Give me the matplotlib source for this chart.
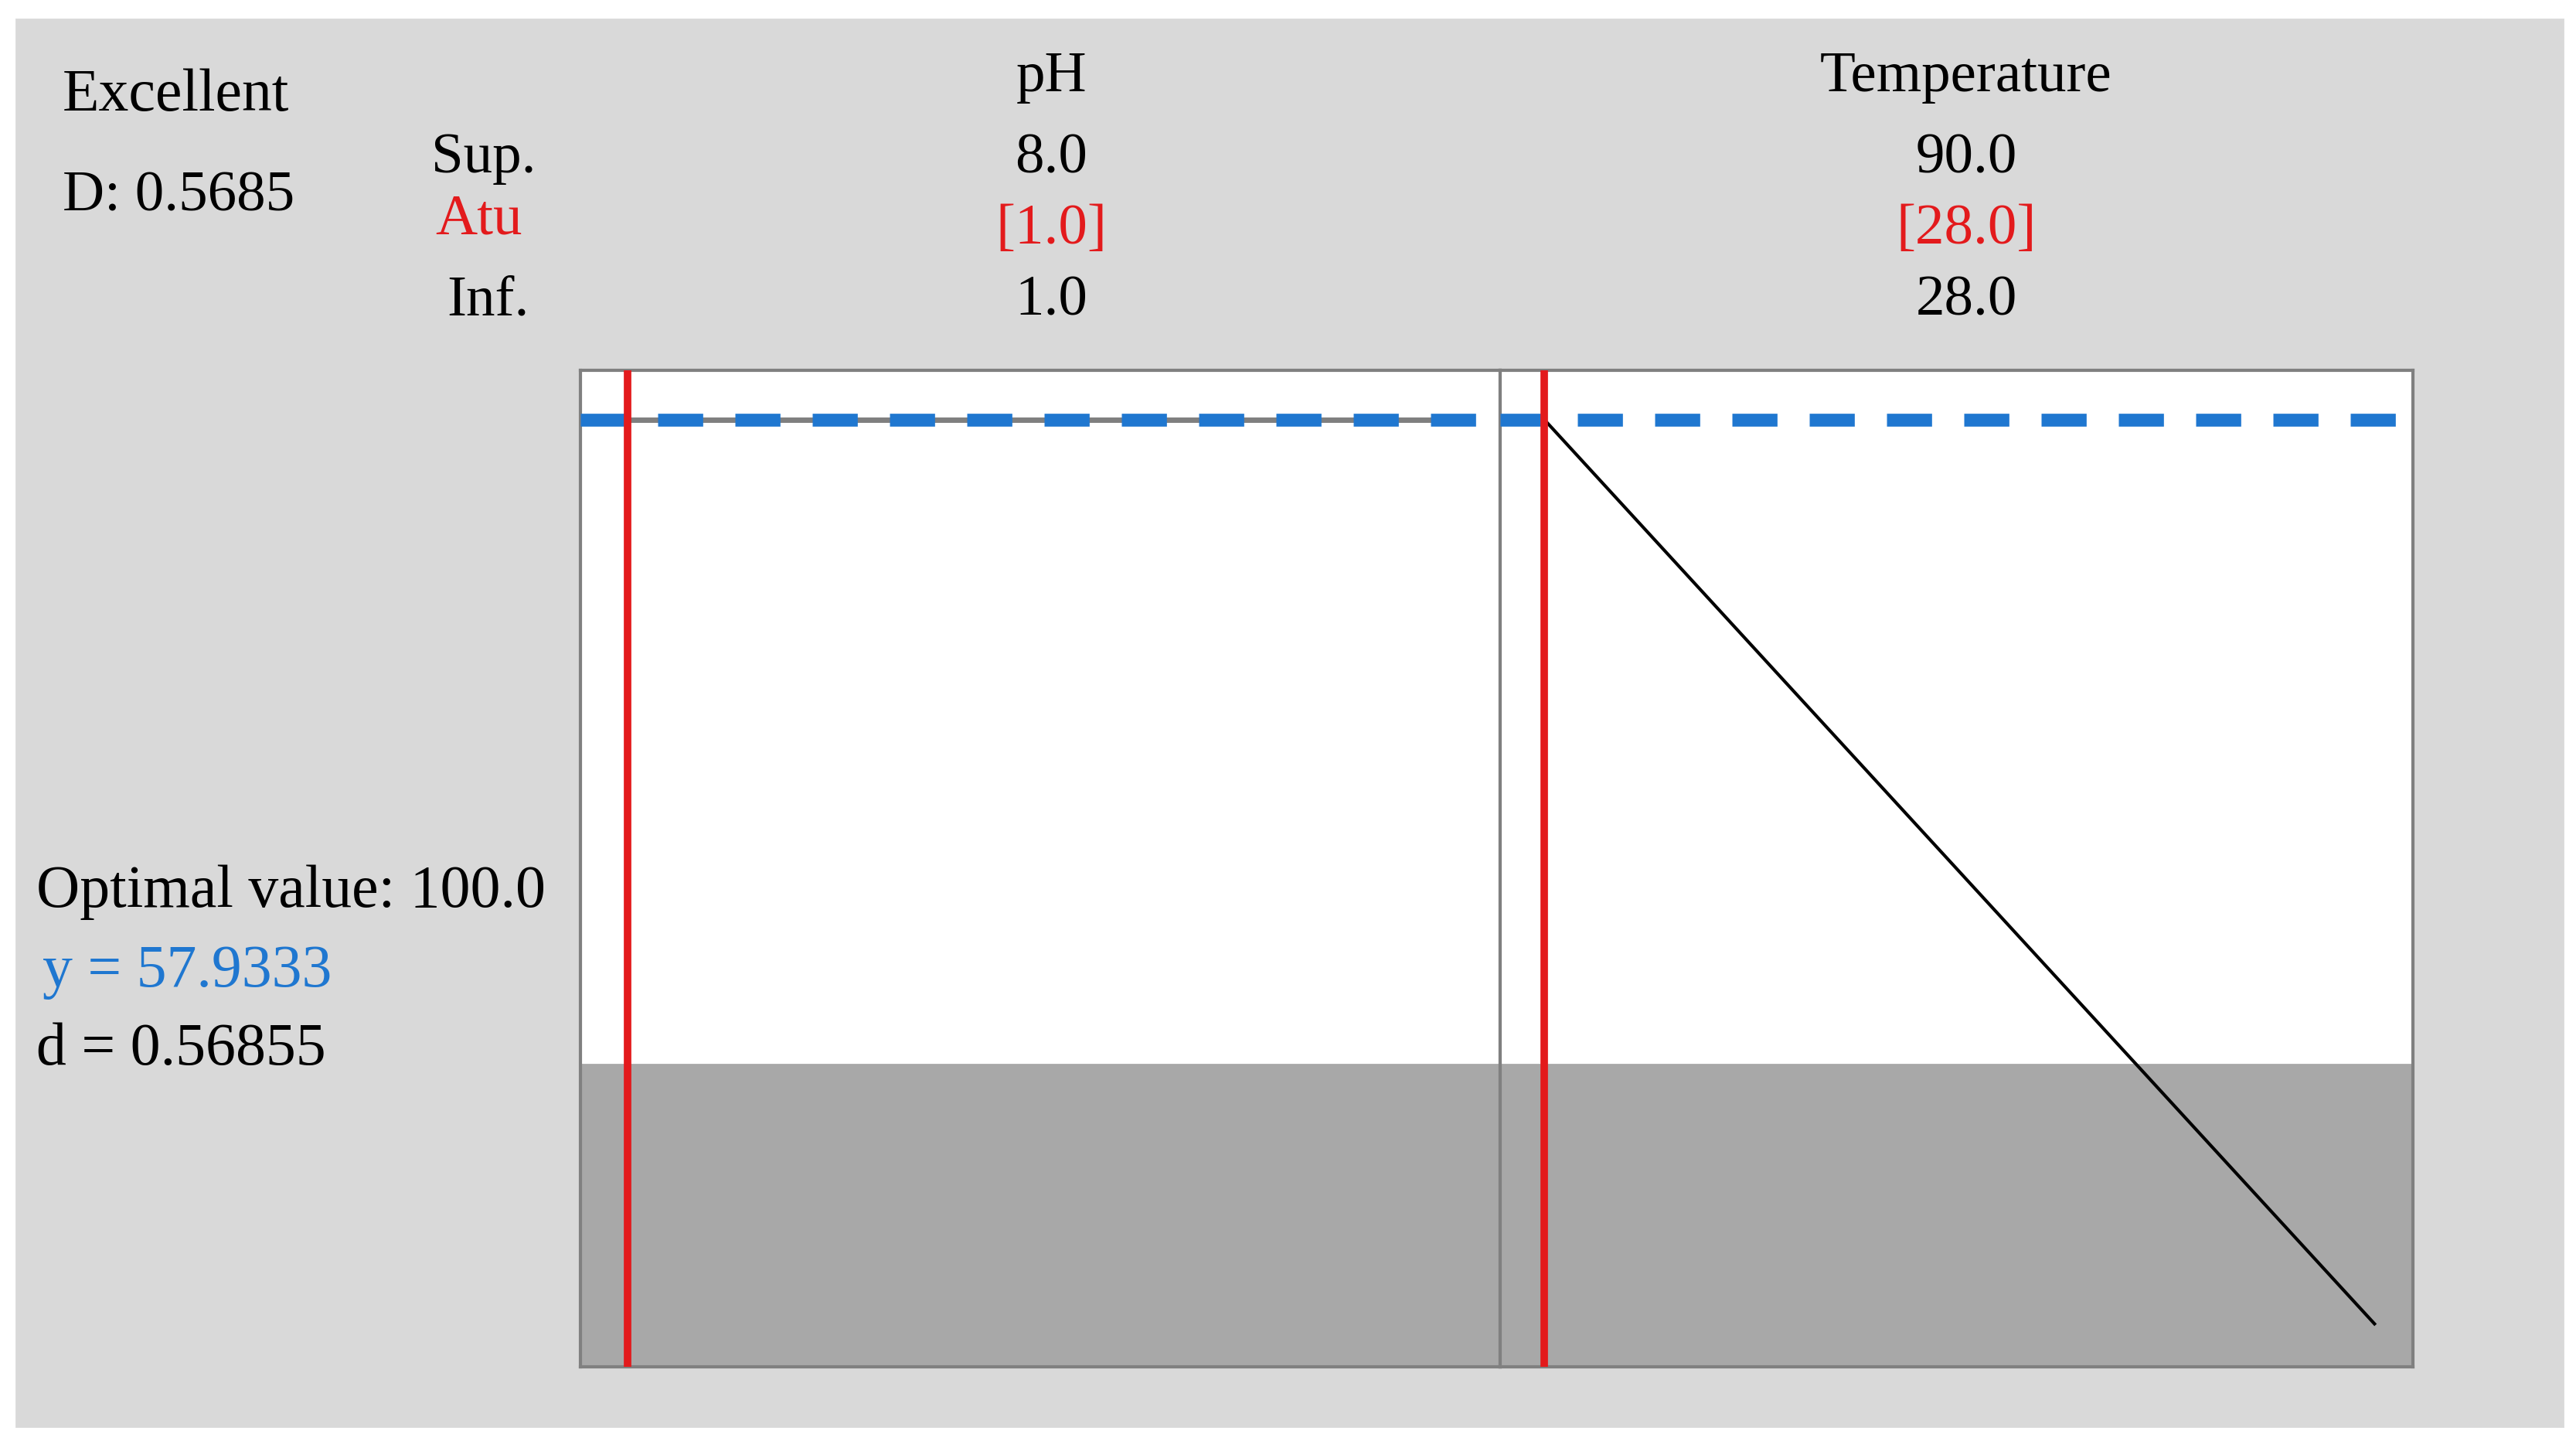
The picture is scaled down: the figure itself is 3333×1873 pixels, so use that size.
import matplotlib.pyplot as plt
from matplotlib.patches import Rectangle

plt.rcParams['font.family'] = ['Liberation Serif', 'DejaVu Serif']

factors = ["pH", "Temperature"]
upper = [8.0, 90.0]
current = [1.0, 28.0]
lower = [1.0, 28.0]
# predicted response at low / high end of each factor
resp_ph = [57.9333, 57.9333]
resp_temp = [57.9333, 30.0]
y_opt = 57.9333
d_val = 0.56855
D_val = 0.5685
lower_limit = 38.0

W, H = 1563.0, 875.0
def fx(px): return px / W
def fy(py): return 1 - py / H

fig = plt.figure(figsize=(16.665, 9.37), dpi=200)
fig.patches.append(Rectangle((fx(10), fy(862)), fx(1545), 850 / H, transform=fig.transFigure,
                             color="#d9d9d9", zorder=-10))

ylim = (28.67, 59.47)
panels = [(352, 910, 0.052, 0.948, resp_ph), (910, 1464, 0.049, 0.958, resp_temp)]
for i, (x0, x1, f0, f1, resp) in enumerate(panels):
    ax = fig.add_axes([fx(x0), fy(826), fx(x1 - x0), (826 - 224) / H])
    ax.set_zorder(5)
    ax.set_facecolor("white")
    lo, hi = lower[i], upper[i]
    span = (hi - lo) / (f1 - f0)
    ax.set_xlim(lo - f0 * span, lo - f0 * span + span)
    ax.set_ylim(*ylim)
    ax.axhspan(ylim[0], lower_limit, color="#a8a8a8", zorder=0)
    ax.plot([lo, hi], resp, color="black" if i else "#7f7f7f", lw=1.5 if i else 2.5, zorder=2)
    ax.axhline(y_opt, color="#1f77d0", lw=6, ls=(0, (3.5, 2.5)), zorder=3)
    ax.axvline(current[i], color="#e31a1c", lw=3.5, zorder=4)
    ax.set_xticks([]); ax.set_yticks([])
    for s in ax.spines.values():
        s.set_color("#808080"); s.set_linewidth(1.5)
    cx = fx(638 if i == 0 else 1193)
    fig.text(cx, fy(47), factors[i], ha="center", va="center", fontsize=27)
    fig.text(cx, fy(96), f"{upper[i]:.1f}", ha="center", va="center", fontsize=27)
    fig.text(cx, fy(139), f"[{current[i]:.1f}]", ha="center", va="center", fontsize=27, color="#e31a1c")
    fig.text(cx, fy(182), f"{lower[i]:.1f}", ha="center", va="center", fontsize=27)

fig.text(fx(38), fy(58), "Excellent", va="center", fontsize=28)
fig.text(fx(38), fy(119), f"D: {D_val:.4f}", va="center", fontsize=27)
fig.text(fx(325), fy(96), "Sup.", ha="right", va="center", fontsize=27)
fig.text(fx(317), fy(133), "Atu", ha="right", va="center", fontsize=27, color="#e31a1c")
fig.text(fx(321), fy(182), "Inf.", ha="right", va="center", fontsize=27)
fig.text(fx(22), fy(539), "Optimal value: 100.0", va="center", fontsize=28)
fig.text(fx(26), fy(587), f"y = {y_opt:.4f}", va="center", fontsize=28, color="#1f77d0")
fig.text(fx(22), fy(634), f"d = {d_val:.5f}", va="center", fontsize=28)

fig.savefig("out.png", dpi=200, facecolor="white")
